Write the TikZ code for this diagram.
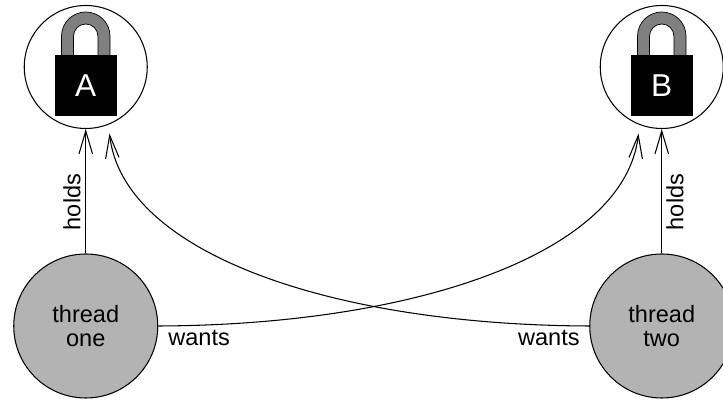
\documentclass[tikz,border=0pt]{standalone}
\usepackage{xcolor}
\usepackage{tikz}
\usetikzlibrary{arrows.meta}
\usepackage{fontspec}
\setmainfont{Liberation Sans}
\definecolor{grigio}{HTML}{B3B3B3}
\definecolor{arco}{HTML}{808080}
\tikzset{
  labeltext/.style={font=\fontsize{13.4}{13.7}\selectfont, inner sep=0pt},
  lockring/.style={draw, circle, line width=0.6pt, minimum size=2.46cm, inner sep=0pt},
  threadnode/.style={draw, circle, fill=grigio, line width=0.6pt, minimum size=2.88cm, inner sep=0pt, align=center, labeltext},
  lockbody/.style={fill=black, text=white, minimum size=1.23cm, inner sep=0pt, font=\fontsize{18}{18}\selectfont},
  barbline/.style={line width=0.6pt, -{Straight Barb[length=0.46cm, width=0.27cm, line width=0.6pt]}}
}
\begin{document}
\begin{tikzpicture}
  \useasboundingbox (0,0) rectangle (14.46,8);
  % Locks
  \node[lockring] (lockA) at (1.715,6.66) {};
  \node[lockring] (lockB) at (13.235,6.66) {};
  \foreach \lockx/\lockname in {1.715/A,13.235/B} {
    \draw[fill=arco, line width=0.4pt] (\lockx-0.485,5.7) -- (\lockx-0.485,7.275) arc (180:0:0.485) -- (\lockx+0.485,5.7)
      -- (\lockx+0.245,5.7) -- (\lockx+0.245,7.275) arc (0:180:0.245) -- (\lockx-0.245,5.7) -- cycle;
    \node[lockbody] (body\lockname) at (\lockx,6.29) {\lockname};
  }
  % Threads
  \node[threadnode] (threadone) at (1.715,1.48) {thread\\one};
  \node[threadnode] (threadtwo) at (13.235,1.48) {thread\\two};
  % Holds
  \draw[barbline] (threadone.north) -- (lockA.south);
  \draw[barbline] (threadtwo.north) -- (lockB.south);
  \node[labeltext, rotate=90] (holdsone) at (1.44,3.96) {holds};
  \node[labeltext, rotate=90] (holdstwo) at (13.5,3.96) {holds};
  % Wants
  \coordinate (wantA) at (2.19,5.33);
  \coordinate (wantB) at (12.77,5.33);
  \draw[barbline] (threadone.east) .. controls (8.36,1.5) and (12.5,2.95) .. (wantB);
  \draw[barbline] (threadtwo.west) .. controls (6.6,1.5) and (2.46,2.95) .. (wantA);
  \node[labeltext, anchor=base west] (wantsone) at (3.36,1.08) {wants};
  \node[labeltext, anchor=base east] (wantstwo) at (11.6,1.08) {wants};
\end{tikzpicture}
\end{document}
